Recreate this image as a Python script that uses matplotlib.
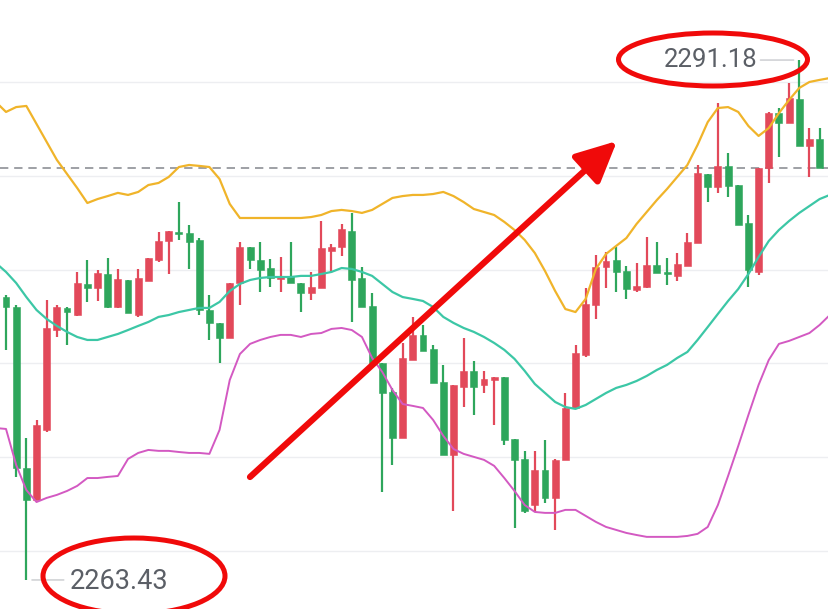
import numpy as np
import matplotlib
matplotlib.use("Agg")
import matplotlib.pyplot as plt
from matplotlib.patches import Ellipse

# ---------------- data (prices) ----------------
opens = [2278.53, 2278.00, 2269.41, 2267.70, 2271.44, 2276.77, 2277.95, 2277.57, 2279.23, 2279.01,
         2279.76, 2278.00, 2279.44, 2277.57, 2279.39, 2280.51, 2281.52, 2282.00, 2281.95, 2281.58,
         2277.84, 2277.15, 2276.35, 2279.28, 2281.20, 2280.51, 2280.08, 2279.50, 2279.66, 2279.28,
         2278.75, 2279.01, 2280.99, 2281.20, 2282.06, 2279.55, 2278.05, 2275.01, 2273.46, 2271.01,
         2275.17, 2276.51, 2275.76, 2274.00, 2270.10, 2273.73, 2274.59, 2273.84, 2274.10, 2274.27,
         2270.96, 2269.89, 2267.43, 2269.30, 2267.81, 2269.84, 2272.61, 2275.44, 2278.11, 2280.14,
         2280.51, 2279.92, 2278.91, 2279.07, 2280.24, 2279.87, 2279.66, 2280.19, 2281.42, 2285.10,
         2284.41, 2285.53, 2284.51, 2282.48, 2279.87, 2285.42, 2288.35, 2287.82, 2289.10, 2286.59,
         2286.97]
closes = [2278.00, 2269.41, 2267.70, 2271.70, 2276.88, 2278.00, 2277.73, 2279.28, 2279.01, 2279.82,
          2278.00, 2279.50, 2277.68, 2279.55, 2280.62, 2281.52, 2282.06, 2281.90, 2281.47, 2277.84,
          2277.15, 2276.35, 2279.28, 2281.20, 2280.51, 2279.98, 2279.55, 2279.66, 2279.28, 2278.75,
          2279.07, 2281.15, 2281.20, 2282.16, 2279.44, 2278.00, 2275.01, 2273.41, 2271.01, 2275.28,
          2276.51, 2275.65, 2273.94, 2270.10, 2273.84, 2274.59, 2273.73, 2274.16, 2274.27, 2270.90,
          2269.84, 2267.11, 2269.30, 2267.81, 2269.84, 2272.61, 2275.55, 2278.16, 2280.14, 2280.46,
          2279.87, 2278.96, 2279.12, 2280.24, 2279.82, 2279.76, 2280.30, 2281.47, 2285.15, 2284.41,
          2285.53, 2284.46, 2282.38, 2279.98, 2285.42, 2288.35, 2287.82, 2289.15, 2286.59, 2286.97,
          2285.42]
highs = [2278.64, 2278.11, 2271.01, 2271.97, 2278.37, 2278.11, 2278.00, 2279.87, 2280.51, 2279.98,
         2280.62, 2280.03, 2279.44, 2280.03, 2280.62, 2282.00, 2282.06, 2283.60, 2282.38, 2281.68,
         2278.64, 2277.15, 2279.28, 2281.47, 2281.20, 2281.47, 2280.56, 2280.67, 2281.47, 2279.28,
         2279.87, 2282.59, 2281.36, 2282.43, 2283.02, 2280.14, 2278.75, 2275.01, 2273.68, 2276.08,
         2277.47, 2277.04, 2275.97, 2274.91, 2273.84, 2276.35, 2275.12, 2274.59, 2274.27, 2274.27,
         2270.96, 2270.32, 2270.32, 2270.90, 2269.89, 2273.41, 2275.97, 2279.01, 2280.78, 2280.94,
         2281.20, 2280.19, 2280.35, 2281.74, 2281.47, 2280.62, 2280.88, 2281.95, 2285.58, 2285.10,
         2288.89, 2286.22, 2284.51, 2282.91, 2285.42, 2288.41, 2288.62, 2289.96, 2291.18, 2287.55,
         2287.55]
lows = [2275.71, 2268.93, 2263.43, 2267.70, 2271.33, 2276.40, 2275.97, 2277.52, 2278.27, 2278.32,
        2277.95, 2277.95, 2277.68, 2277.47, 2279.39, 2280.40, 2279.76, 2281.58, 2280.03, 2277.57,
        2276.24, 2275.01, 2276.35, 2278.11, 2280.03, 2278.80, 2279.07, 2278.80, 2279.28, 2277.73,
        2278.37, 2279.01, 2279.82, 2280.72, 2277.20, 2278.00, 2275.01, 2268.13, 2269.57, 2271.01,
        2275.17, 2275.65, 2273.94, 2270.10, 2267.11, 2272.66, 2272.24, 2273.41, 2271.70, 2270.64,
        2266.21, 2267.01, 2267.06, 2267.54, 2266.10, 2269.84, 2272.61, 2275.33, 2277.36, 2279.01,
        2278.80, 2278.43, 2278.80, 2279.01, 2279.82, 2279.18, 2279.39, 2280.19, 2281.42, 2283.60,
        2284.09, 2283.87, 2282.38, 2279.07, 2279.71, 2284.62, 2286.01, 2287.82, 2286.59, 2284.94,
        2285.42]

# Bollinger bands, one value per bar from bar -1 to bar 81
band_start = -1
upper = [2288.94, 2288.41, 2288.67, 2288.73, 2287.77, 2286.81, 2285.85, 2285.10, 2284.35, 2283.55,
         2283.76, 2283.92, 2284.09, 2283.98, 2284.14, 2284.51, 2284.62, 2284.94, 2285.47, 2285.58,
         2285.53, 2285.47, 2284.83, 2283.50, 2282.75, 2282.75, 2282.75, 2282.75, 2282.75, 2282.75,
         2282.75, 2282.80, 2282.91, 2283.12, 2283.18, 2283.12, 2283.02, 2283.18, 2283.50, 2283.82,
         2283.92, 2283.98, 2283.98, 2284.03, 2284.14, 2283.92, 2283.60, 2283.23, 2283.07, 2282.91,
         2282.54, 2282.11, 2281.58, 2280.88, 2279.92, 2278.85, 2277.89, 2277.73, 2278.43, 2280.03,
         2280.83, 2281.26, 2281.68, 2282.43, 2283.07, 2283.71, 2284.30, 2284.94, 2285.58, 2286.65,
         2287.87, 2288.62, 2288.67, 2288.41, 2287.66, 2287.13, 2287.55, 2288.35, 2289.05, 2289.69,
         2290.01, 2290.12, 2290.22]
middle = [2280.35, 2279.87, 2279.28, 2278.53, 2277.84, 2277.36, 2276.99, 2276.67, 2276.40, 2276.24,
          2276.24, 2276.40, 2276.56, 2276.77, 2276.99, 2277.20, 2277.47, 2277.57, 2277.73, 2277.84,
          2277.95, 2277.95, 2278.27, 2278.85, 2279.23, 2279.44, 2279.55, 2279.60, 2279.60, 2279.60,
          2279.66, 2279.66, 2279.76, 2279.87, 2280.08, 2280.03, 2279.87, 2279.66, 2279.23, 2278.80,
          2278.53, 2278.43, 2278.32, 2278.00, 2277.47, 2277.15, 2276.88, 2276.67, 2276.40, 2276.08,
          2275.71, 2275.23, 2274.59, 2273.89, 2273.41, 2272.93, 2272.66, 2272.56, 2272.77, 2273.09,
          2273.41, 2273.68, 2273.84, 2274.05, 2274.32, 2274.64, 2274.91, 2275.28, 2275.60, 2276.24,
          2276.93, 2277.63, 2278.32, 2278.96, 2279.76, 2280.67, 2281.52, 2282.11, 2282.59, 2283.02,
          2283.39, 2283.76, 2283.98]
lower = [2271.54, 2271.49, 2269.57, 2268.23, 2267.59, 2267.81, 2267.97, 2268.18, 2268.45, 2268.87,
         2268.87, 2268.93, 2268.98, 2269.89, 2270.21, 2270.37, 2270.32, 2270.32, 2270.26, 2270.21,
         2270.21, 2270.16, 2271.44, 2274.10, 2275.49, 2276.03, 2276.24, 2276.40, 2276.51, 2276.51,
         2276.40, 2276.56, 2276.61, 2276.83, 2276.88, 2276.77, 2276.40, 2275.28, 2274.53, 2273.57,
         2272.82, 2272.72, 2272.61, 2271.97, 2271.12, 2270.42, 2270.16, 2270.00, 2269.84, 2269.52,
         2268.87, 2268.18, 2267.43, 2267.06, 2267.01, 2267.01, 2267.17, 2267.17, 2266.85, 2266.53,
         2266.26, 2266.10, 2265.94, 2265.83, 2265.73, 2265.73, 2265.73, 2265.73, 2265.78, 2265.89,
         2266.26, 2267.43, 2268.98, 2270.58, 2272.24, 2273.84, 2275.17, 2276.03, 2276.19, 2276.40,
         2276.61, 2277.04, 2277.57]

grid_levels = [2265, 2270, 2275, 2280, 2285, 2290]

# ---------------- styling ----------------
RED = "#E2495A"
GREEN = "#2EA65C"
C_UP = "#F0B42A"
C_MID = "#3CC7A6"
C_LOW = "#D359C2"
ANNO = "#F00A0A"

W, H = 829, 609
fig = plt.figure(figsize=(W / 100, H / 100), dpi=100)
ax = fig.add_axes([0, 0, 1, 1])
ax.set_axis_off()

n = len(opens)
x = np.arange(n)
o = np.array(opens); c = np.array(closes)
hi = np.array(highs); lo = np.array(lows)
up = c >= o
cols = np.where(up, RED, GREEN)

for g in grid_levels:
    ax.axhline(g, color="#EDEEF1", lw=1.0, zorder=0)

# wicks and bodies
ax.vlines(x, lo, hi, colors=cols, lw=1.6, zorder=2)
body_bottom = np.minimum(o, c)
body_h = np.maximum(np.abs(c - o), 0.06)
ax.bar(x, body_h, bottom=body_bottom, width=0.68, color=cols, edgecolor=cols,
       linewidth=0.4, zorder=3)

# Bollinger bands
bx = np.arange(band_start, band_start + len(upper))
ax.plot(bx, upper, color=C_UP, lw=1.6, zorder=4, solid_joinstyle="round")
ax.plot(bx, middle, color=C_MID, lw=1.6, zorder=4, solid_joinstyle="round")
ax.plot(bx, lower, color=C_LOW, lw=1.4, zorder=4, solid_joinstyle="round")

# last price dashed line
ax.axhline(closes[-1], color="#8E9096", lw=1.2, ls=(0, (5, 3.5)), zorder=1)

xmin = -0.59
xmax = xmin + W / 10.17
ax.set_xlim(xmin, xmax)
ax.set_ylim(2261.88, 2294.385)

# high / low labels
ih = int(np.argmax(hi)); il = int(np.argmin(lo))
ax.annotate(f"{hi[ih]:.2f}", xy=(ih, hi[ih]), xytext=(-30, 0), textcoords="offset points",
            ha="right", va="center", fontsize=18.5, color="#5B5F66", family="Roboto", zorder=6)
ax.annotate("", xy=(ih, hi[ih]), xytext=(-28, 0), textcoords="offset points",
            arrowprops=dict(arrowstyle="-", color="#C8CACE", lw=1.0, shrinkA=0, shrinkB=4), zorder=6)
ax.annotate(f"{lo[il]:.2f}", xy=(il, lo[il]), xytext=(31, -1), textcoords="offset points",
            ha="left", va="center", fontsize=19.5, color="#5B5F66", family="Roboto", zorder=6)
ax.annotate("", xy=(il, lo[il]), xytext=(27, 0), textcoords="offset points",
            arrowprops=dict(arrowstyle="-", color="#C8CACE", lw=1.0, shrinkA=0, shrinkB=4), zorder=6)

# red ellipses (hand-drawn annotations)
ax.add_patch(Ellipse((713 / W, 1 - 59.5 / H), 189 / W, 53 / H, transform=ax.transAxes,
                     fill=False, edgecolor=ANNO, lw=3.6, zorder=7))
ax.add_patch(Ellipse((134 / W, 1 - 576 / H), 182 / W, 76 / H, transform=ax.transAxes,
                     fill=False, edgecolor=ANNO, lw=3.6, zorder=7))

# red arrow
ax.annotate("", xy=(617 / W, 1 - 141 / H), xytext=(250 / W, 1 - 477 / H),
            xycoords="axes fraction", textcoords="axes fraction",
            arrowprops=dict(arrowstyle="-|>,head_length=0.62,head_width=0.3", color=ANNO,
                            lw=4.5, mutation_scale=40, shrinkA=0, shrinkB=0), zorder=8)

fig.savefig("out.png", dpi=100, facecolor="white")
